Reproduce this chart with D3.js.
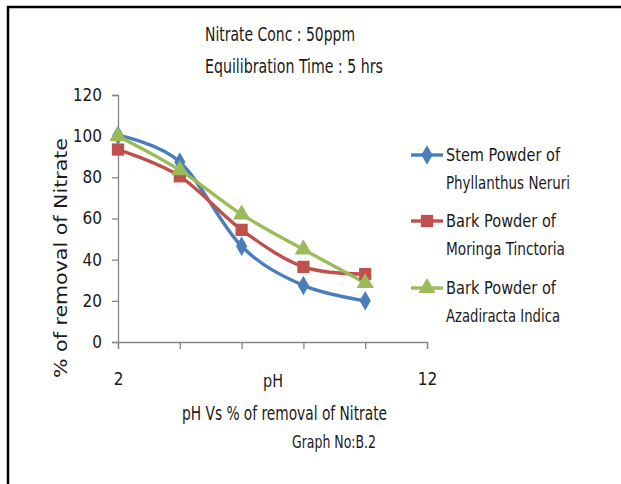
<!DOCTYPE html>
<html>
<head>
<meta charset="utf-8">
<script src="https://cdn.jsdelivr.net/npm/d3@7"></script>
<style>
  html, body { margin: 0; padding: 0; background: #fff; }
  svg { display: block; }
  text { font-family: "Liberation Sans Narrow", "DejaVu Sans Condensed", sans-serif; fill: #1a1a1a; }
</style>
</head>
<body>
<svg id="chart" width="621" height="484"></svg>
<script>
// pH values at which removal was measured
const phValues = [2, 4, 6, 8, 10];
// % removal of nitrate for each adsorbent
const stemPhyllanthus = [100.5, 87.5, 46.5, 27.5, 20];
const barkMoringa = [93.5, 80.5, 54.5, 36.5, 33];
const barkAzadiracta = [100, 83.5, 62, 45, 28.7];
// axis ticks
const xTicks = [2, 4, 6, 8, 10, 12];
const xTickLabels = { 2: "2", 12: "12" };
const yTicks = [0, 20, 40, 60, 80, 100, 120];

const seriesNames = [
  ["Stem  Powder  of", "Phyllanthus Neruri"],
  ["Bark  Powder  of", "Moringa Tinctoria"],
  ["Bark  Powder  of", "Azadiracta Indica"]
];

const series = [
  { name: seriesNames[0], values: stemPhyllanthus, color: "#4a7ebb", marker: d3.symbolDiamond, size: 110 },
  { name: seriesNames[1], values: barkMoringa, color: "#c0504d", marker: d3.symbolSquare, size: 150 },
  { name: seriesNames[2], values: barkAzadiracta, color: "#9bbb59", marker: d3.symbolTriangle, size: 130 }
];

const svg = d3.select("#chart");

// outer frame (top and left edges)
svg.append("path")
  .attr("d", "M8,621 V7 H621")
  .attr("fill", "none")
  .attr("stroke", "#000")
  .attr("stroke-width", 2.5);

const x = d3.scaleLinear().domain([2, 12]).range([118, 427]);
const y = d3.scaleLinear().domain([0, 120]).range([342, 95]);

// axes
const yAxis = d3.axisLeft(y).tickValues(yTicks).tickSize(6).tickPadding(10);
const gy = svg.append("g").attr("transform", `translate(${x(2)},0)`).call(yAxis);
gy.selectAll("text").style("font-size", "17px").attr("fill", "#1a1a1a");

const xAxis = d3.axisBottom(x).tickValues(xTicks).tickSize(7).tickPadding(24)
  .tickFormat(d => xTickLabels[d] || "");
const gx = svg.append("g").attr("transform", `translate(0,${y(0)})`).call(xAxis);
gx.selectAll("text").style("font-size", "17px").attr("fill", "#1a1a1a");

[gx, gy].forEach(g => {
  g.select(".domain").attr("stroke", "#868686").attr("stroke-width", 1.3);
  g.selectAll(".tick line").attr("stroke", "#868686").attr("stroke-width", 1.3);
});

// series lines and markers
const line = d3.line()
  .x((d, i) => x(phValues[i]))
  .y(d => y(d))
  .curve(d3.curveCatmullRom.alpha(0));

series.forEach(s => {
  svg.append("path")
    .datum(s.values)
    .attr("d", line)
    .attr("fill", "none")
    .attr("stroke", s.color)
    .attr("stroke-width", 3.4)
    .attr("stroke-linejoin", "round");
});
series.forEach(s => {
  svg.append("g").selectAll("path")
    .data(s.values)
    .join("path")
    .attr("transform", (d, i) => `translate(${x(phValues[i])},${y(d)})`)
    .attr("d", d3.symbol().type(s.marker).size(s.size))
    .attr("fill", s.color);
});

// titles
svg.append("text").attr("x", 205).attr("y", 41)
  .attr("textLength", 150).attr("lengthAdjust", "spacingAndGlyphs")
  .style("font-size", "20px").text("Nitrate Conc : 50ppm");
svg.append("text").attr("x", 205).attr("y", 73)
  .attr("textLength", 178).attr("lengthAdjust", "spacingAndGlyphs")
  .style("font-size", "20px").text("Equilibration Time : 5 hrs");

// y axis title
svg.append("text")
  .attr("transform", "translate(67,378) rotate(-90)")
  .attr("textLength", 240).attr("lengthAdjust", "spacingAndGlyphs")
  .style("font-family", "'DejaVu Sans', sans-serif")
  .style("font-size", "17px")
  .text("% of  removal of Nitrate");

// x axis titles
svg.append("text").attr("x", 263).attr("y", 387)
  .attr("textLength", 20).attr("lengthAdjust", "spacingAndGlyphs")
  .style("font-size", "18px").text("pH");
svg.append("text").attr("x", 182).attr("y", 420)
  .attr("textLength", 205).attr("lengthAdjust", "spacingAndGlyphs")
  .style("font-size", "19px").text("pH Vs % of  removal of Nitrate");
svg.append("text").attr("x", 292).attr("y", 448)
  .attr("textLength", 84).attr("lengthAdjust", "spacingAndGlyphs")
  .style("font-size", "18px").text("Graph No:B.2");

// legend
const legendRows = [155, 221, 288];
const nameWidths = [[114, 124], [110, 119], [110, 114]];
series.forEach((s, i) => {
  const ly = legendRows[i];
  const g = svg.append("g");
  g.append("line").attr("x1", 411).attr("x2", 443).attr("y1", ly).attr("y2", ly)
    .attr("stroke", s.color).attr("stroke-width", 3.4);
  g.append("path").attr("transform", `translate(427,${ly})`)
    .attr("d", d3.symbol().type(s.marker).size(s.size)).attr("fill", s.color);
  s.name.forEach((t, j) => {
    g.append("text").attr("x", 446).attr("y", ly + j * 28).attr("dy", "0.35em")
      .attr("textLength", nameWidths[i][j]).attr("lengthAdjust", "spacingAndGlyphs")
      .style("font-size", "18px").text(t);
  });
});
</script>
</body>
</html>
